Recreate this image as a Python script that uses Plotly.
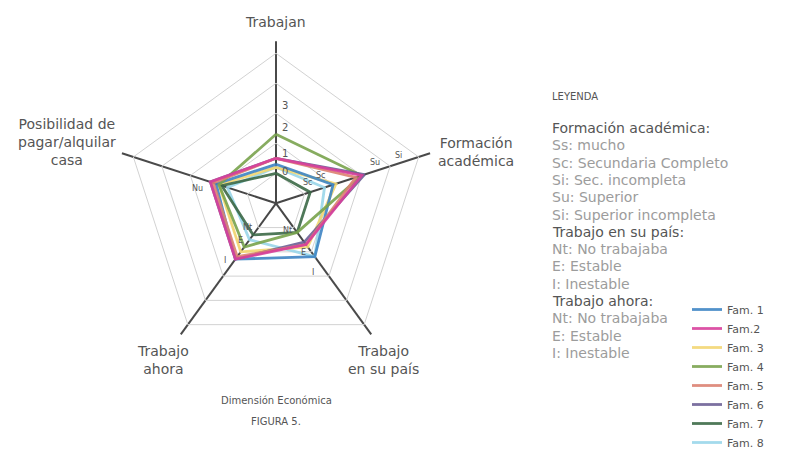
import plotly.graph_objects as go

# ---------------- data ----------------
categories = ["Trabajan", "Formación académica", "Trabajo en su país",
              "Trabajo ahora", "Posibilidad de pagar/alquilar casa"]
fam_names = ["Fam. 1", "Fam.2", "Fam. 3", "Fam. 4", "Fam. 5", "Fam. 6", "Fam. 7", "Fam. 8"]
fam1 = [1.3, 2.0, 2.2, 2.3, 2.1]
fam2 = [1.5, 3.0, 1.7, 2.3, 2.3]
fam3 = [1.2, 2.1, 1.8, 2.0, 2.0]
fam4 = [2.3, 3.0, 1.2, 1.8, 2.0]
fam5 = [1.5, 2.8, 1.7, 2.2, 2.2]
fam6 = [1.5, 3.1, 1.6, 2.3, 2.3]
fam7 = [1.0, 1.2, 1.2, 1.3, 1.9]
fam8 = [1.2, 1.7, 2.2, 1.5, 1.7]
fam_colors = ["#3f86c4", "#d8409c", "#f3d673", "#7ba34f",
              "#dc8272", "#6e6096", "#3c6a47", "#9ad6ea"]
draw_order = [7, 2, 6, 0, 3, 5, 4, 1]  # indices; pink/red drawn on top as in the reference
radial_ticks = [1, 2, 3, 4, 5]
scale_labels = ["0", "1", "2", "3"]

legend_lines = [
    ("Formación académica:", True),
    ("Ss: mucho", False),
    ("Sc: Secundaria Completo", False),
    ("Si: Sec. incompleta", False),
    ("Su: Superior", False),
    ("Si: Superior incompleta", False),
    ("Trabajo en su país:", True),
    ("Nt: No trabajaba", False),
    ("E: Estable", False),
    ("I: Inestable", False),
    ("Trabajo ahora:", True),
    ("Nt: No trabajaba", False),
    ("E: Estable", False),
    ("I: Inestable", False),
]

# page body has an 8px margin -> figure sized to fill the rest of the window
OFF = 8
W, H = 793 - OFF, 453 - OFF
FONT = "DejaVu Sans"
DARK = "#555555"
LIGHT = "#9c9c9c"


def px(x):
    return (x - OFF) / W


def py(y):
    return 1 - (y - OFF) / H


fig = go.Figure()
series = [fam1, fam2, fam3, fam4, fam5, fam6, fam7, fam8]
for i in draw_order:
    vals = series[i]
    fig.add_trace(go.Scatterpolar(
        r=vals + vals[:1], theta=categories + categories[:1],
        mode="lines", name=fam_names[i], legendrank=i + 1,
        line=dict(color=fam_colors[i], width=2.8),
        opacity=0.9,
    ))

cx, cy, R = 276, 203.3, 162
fig.update_layout(
    width=W, height=H,
    margin=dict(l=0, r=0, t=0, b=0, autoexpand=False),
    paper_bgcolor="white",
    font=dict(family=FONT, color=DARK),
    polar=dict(
        domain=dict(x=[px(cx - R), px(cx + R)], y=[py(cy + R), py(cy - R)]),
        bgcolor="white",
        gridshape="linear",
        radialaxis=dict(range=[0, 5.4], tickvals=radial_ticks, showticklabels=False,
                        ticks="", showline=False, gridcolor="#d2d2d2", gridwidth=1),
        angularaxis=dict(rotation=90, direction="clockwise", showticklabels=False,
                         ticks="", showline=False, gridcolor="#4a4a4a", gridwidth=1.8),
    ),
    legend=dict(x=px(687), y=py(295), xanchor="left", yanchor="top",
                font=dict(family=FONT, size=11, color=DARK),
                tracegroupgap=0, itemwidth=30, bgcolor="rgba(0,0,0,0)"),
    showlegend=True,
)

ann = []


def add_text(txt, x, y, size, color=DARK, xanchor="center", align="center"):
    ann.append(dict(text=txt, x=px(x), y=py(y), xref="paper", yref="paper",
                    showarrow=False, xanchor=xanchor, yanchor="middle", align=align,
                    font=dict(size=size, color=color, family=FONT)))


# axis labels
axis_labels = [
    ("Trabajan", 275, 22),
    ("Formación<br>académica", 476, 152),
    ("Trabajo<br>en su país", 383, 360),
    ("Trabajo<br>ahora", 163, 360),
    ("Posibilidad de<br>pagar/alquilar<br>casa", 67, 142),
]
for txt, x, y in axis_labels:
    add_text(txt, x, y, 14)

# scale labels on top axis
for txt, y in zip(scale_labels, [172, 153, 127, 105]):
    add_text(txt, 285, y, 10)

# small hand annotations
small = [("Su", 375, 163), ("Si", 398, 155), ("Sc", 307, 182), ("Sc", 320, 175),
         ("Nu", 197, 188), ("Nt", 247, 227), ("E", 240, 240), ("I", 225, 260),
         ("Nt", 287, 230), ("E", 303, 252), ("I", 313, 272)]
for txt, x, y in small:
    add_text(txt, x, y, 8)

# legend text block
add_text("LEYENDA", 550, 97, 10, xanchor="left", align="left")
for i, (txt, head) in enumerate(legend_lines):
    add_text(txt, 550, 128 + i * 17.3, 14, color=DARK if head else LIGHT,
             xanchor="left", align="left")

# bottom caption
add_text("Dimensión Económica", 276, 400, 10)
add_text("FIGURA 5.", 276, 421, 10)

fig.update_layout(annotations=ann)
fig.write_html("out.html")
